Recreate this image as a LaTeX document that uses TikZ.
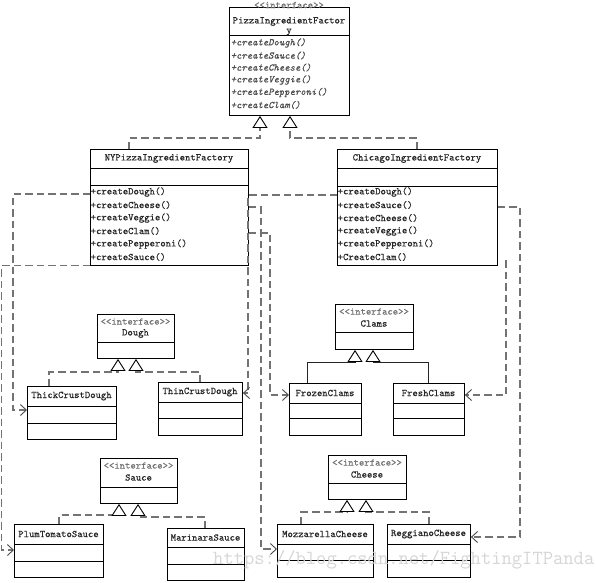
\documentclass[tikz,border=0pt]{standalone}
\usepackage{fontspec}
\newfontfamily\umlfont{Latin Modern Mono}[FakeBold=0.35]
\usetikzlibrary{arrows.meta}
\tikzset{
  box/.style={draw=black, line width=0.9pt, fill=white, inner sep=0pt, anchor=north west},
  boxline/.style={draw=black, line width=0.9pt},
  txt/.style={font=\umlfont\fontsize{10.2}{12}\selectfont, inner sep=0pt, text=black!85},
  meth/.style={txt, anchor=west},
  imeth/.style={txt, anchor=west, font=\umlfont\itshape\fontsize{10.2}{12}\selectfont, text=black!70},
  stereo/.style={txt, text=black!55},
  gentip/.style={-{Triangle[length=12pt, width=15pt, fill=white, color=black, line width=0.9pt]}},
  gen/.style={draw=black!55, line width=1.1pt, dash pattern=on 7.5pt off 4pt, gentip},
  gensolid/.style={draw=black!85, line width=0.9pt, gentip},
  dep/.style={draw=black!55, line width=1.1pt, dash pattern=on 7.5pt off 4pt,
    -{Straight Barb[length=6pt, width=11pt, line width=0.9pt, color=black!70]}},
  wmark/.style={font=\ttfamily\fontsize{20}{20}\selectfont, text=black!16, anchor=west, inner sep=0pt}
}
% class with name compartment, attribute compartment, method compartment
\newcommand\umlcls[8]{%
  \node[box, minimum width={(#4-#2)*1pt}, minimum height={(#5-#3)*1pt}] (#1) at (#2,#3) {};
  \draw[boxline] (#1.west |- 0,#6) -- (#1.east |- 0,#6);
  \draw[boxline] (#1.west |- 0,#7) -- (#1.east |- 0,#7);
  \node[txt] (#1-name) at ({(#2+#4)/2},{(#3+#6)/2}) {#8};
}
% interface with stereotype
\newcommand\umlifc[7]{%
  \node[box, minimum width={(#4-#2)*1pt}, minimum height={(#5-#3)*1pt}] (#1) at (#2,#3) {};
  \draw[boxline] (#1.west |- 0,#6) -- (#1.east |- 0,#6);
  \node[stereo] (#1-st) at ({(#2+#4)/2},{#3+7.5}) {<<interface>>};
  \node[txt] (#1-name) at ({(#2+#4)/2},{#3+19.5}) {#7};
}
\begin{document}
\begin{tikzpicture}[x=1pt, y=-1pt]
\fill[white] (0,0) rectangle (596,582);
\useasboundingbox (0,0) rectangle (596,582);

% ---------- top interface ----------
\node[box, minimum width=120pt, minimum height=108pt] (top) at (229,7) {};
\draw[boxline] (top.west |- 0,35) -- (top.east |- 0,35);
\node[stereo] (top-st) at (289,5) {<<interface>>};
\node[txt] (top-n1) at (289,21.5) {PizzaIngredientFactor};
\node[txt] (top-n2) at (289,32) {y};
\node[imeth] (top-m1) at (230.5,43) {+createDough()};
\node[imeth] (top-m2) at (230.5,55.5) {+createSauce()};
\node[imeth] (top-m3) at (230.5,67.5) {+createCheese()};
\node[imeth] (top-m4) at (230.5,80) {+createVeggie()};
\node[imeth] (top-m5) at (230.5,92.5) {+createPepperoni()};
\node[imeth] (top-m6) at (230.5,105) {+createClam()};

% ---------- factories ----------
\umlcls{ny}{90}{149}{248}{265}{168}{185}{NYPizzaIngredientFactory}
\node[meth] (ny-m1) at (90.5,192) {+createDough()};
\node[meth] (ny-m2) at (90.5,205) {+createCheese()};
\node[meth] (ny-m3) at (90.5,218) {+createVeggie()};
\node[meth] (ny-m4) at (90.5,231) {+createClam()};
\node[meth] (ny-m5) at (90.5,244) {+createPepperoni()};
\node[meth] (ny-m6) at (90.5,257) {+createSauce()};

\umlcls{chi}{337}{149}{497}{265}{168}{186}{ChicagoIngredientFactory}
\node[meth] (chi-m1) at (337.5,192) {+createDough()};
\node[meth] (chi-m2) at (337.5,205) {+createSauce()};
\node[meth] (chi-m3) at (337.5,218) {+createCheese()};
\node[meth] (chi-m4) at (337.5,231) {+createVeggie()};
\node[meth] (chi-m5) at (337.5,244) {+createPepperoni()};
\node[meth] (chi-m6) at (337.5,257) {+CreateClam()};

% ---------- products ----------
\umlifc{dough}{97}{314}{174}{358}{342}{Dough}
\umlcls{thick}{27}{386}{116}{439}{406}{423}{ThickCrustDough}
\umlcls{thin}{158}{382}{242}{435}{402}{418}{ThinCrustDough}

\umlifc{clams}{335}{304}{413}{349}{332}{Clams}
\umlcls{frozen}{289}{383}{361}{435}{403}{418}{FrozenClams}
\umlcls{fresh}{393}{383}{464}{435}{403}{418}{FreshClams}

\umlifc{sauce}{100}{458}{177}{503}{487}{Sauce}
\umlcls{plum}{14}{524}{103}{577}{544}{561}{PlumTomatoSauce}
\umlcls{mar}{167}{528}{244}{580}{547}{564}{MarinaraSauce}

\umlifc{cheese}{328}{455}{406}{499}{483}{Cheese}
\umlcls{mozz}{277}{524}{373}{577}{544}{560}{MozzarellaCheese}
\umlcls{regg}{387}{524}{470}{577}{544}{560}{ReggianoCheese}

% ---------- realizations ----------
\draw[gen] (129,0 |- ny.north) |- (260,138) -- (260,0 |- top.south);
\draw[gen] (417,0 |- chi.north) |- (290,138) -- (290,0 |- top.south);
\draw[gen] (49,0 |- thick.north) |- (118,372) -- (118,0 |- dough.south);
\draw[gen] (200,0 |- thin.north) |- (136,372) -- (136,0 |- dough.south);
\draw[gensolid] (307,0 |- frozen.north) |- (355,362.5) -- (355,0 |- clams.south);
\draw[gensolid] (428,0 |- fresh.north) |- (373,362.5) -- (373,0 |- clams.south);
\draw[gen] (59,0 |- plum.north) |- (119,515) -- (119,0 |- sauce.south);
\draw[gen] (205,0 |- mar.north) |- (138,517) -- (138,0 |- sauce.south);
\draw[gen] (301,0 |- mozz.north) |- (347,512) -- (347,0 |- cheese.south);
\draw[gen] (429,0 |- regg.north) |- (366,512) -- (366,0 |- cheese.south);

% ---------- dependencies ----------
\draw[dep] (ny.west |- 0,194) -| (13,410) -- (thick.west |- 0,410);
\draw[dep] (ny.south west) -| (1.5,550) -- (plum.west |- 0,550);
\draw[dep] (chi.west |- 0,195) -| (248,393) -- (thin.east |- 0,393);
\draw[dep] (ny.east |- 0,207) -| (261,549) -- (mozz.west |- 0,549);
\draw[dep] (ny.east |- 0,233) -| (270,395) -- (frozen.west |- 0,395);
\draw[dep] (chi.east |- 0,207) -| (520,537) -- (regg.east |- 0,537);
\coordinate (g0) at (506,260);
\draw[dep] (g0) |- (fresh.east |- 0,395);

% ---------- watermark ----------
\node[wmark] (wm) at (213,560) {https://blog.csdn.net/FightingITPanda};
\end{tikzpicture}
\end{document}
